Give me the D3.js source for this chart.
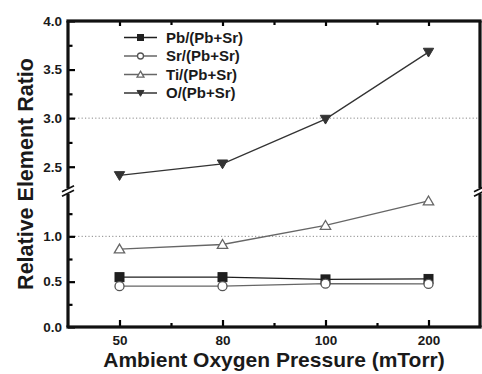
<!DOCTYPE html>
<html><head><meta charset="utf-8">
<script src="https://cdn.jsdelivr.net/npm/d3@7"></script>
<style>body{margin:0;background:#fff}svg{display:block}text{font-family:"Liberation Sans",Arial,sans-serif;font-weight:bold;fill:#1a1a1a}</style>
</head><body><svg id="c" width="482" height="374"></svg>
<script>
const categories = ["50", "80", "100", "200"];
const pbRatio = [0.55, 0.55, 0.525, 0.53];
const srRatio = [0.45, 0.45, 0.478, 0.475];
const tiRatio = [0.86, 0.91, 1.12, 1.39];
const oRatio = [2.41, 2.53, 2.99, 3.68];
const seriesNames = ["Pb/(Pb+Sr)", "Sr/(Pb+Sr)", "Ti/(Pb+Sr)", "O/(Pb+Sr)"];
const lowMajorTicks = [0, 0.5, 1.0];
const lowMinorTicks = [0.25, 0.75, 1.25];
const highMajorTicks = [2.5, 3.0, 3.5, 4.0];
const highMinorTicks = [2.75, 3.25, 3.75];
const gridValues = [1.0, 3.0];

const svg = d3.select("#c");
const L = 68, R = 480, T = 21, B = 327, BRK = 191;
const x = d3.scalePoint().domain(categories).range([L, R]).padding(0.5);
const yLow = d3.scaleLinear().domain([0, 1.5]).range([B, BRK]);
const yHigh = d3.scaleLinear().domain([2.25, 4.0]).range([BRK, T]);
const yAny = v => v >= 2 ? yHigh(v) : yLow(v);
const step = x.step();

// grid
svg.selectAll("line.grid").data(gridValues).join("line")
  .attr("x1", L).attr("x2", R).attr("y1", d => yAny(d)).attr("y2", d => yAny(d))
  .style("stroke", "#888").style("stroke-width", "1px").style("stroke-dasharray", "1.2,2.2");

// axes via d3 (ticks inward)
const axisStyle = g => {
  g.select(".domain").remove();
  g.selectAll(".tick line").style("stroke", "#000").style("stroke-width", "2.2px");
  g.selectAll(".tick text").style("font-size", "13.5px").style("font-weight", "bold")
    .style("font-family", "'Liberation Sans',Arial,sans-serif").style("fill", "#1a1a1a");
};
svg.append("g").attr("transform", `translate(${L},0)`)
  .call(d3.axisLeft(yLow).tickValues(lowMajorTicks).tickFormat(d3.format(".1f")).tickSizeInner(-7).tickPadding(6))
  .call(axisStyle);
svg.append("g").attr("transform", `translate(${L},0)`)
  .call(d3.axisLeft(yHigh).tickValues(highMajorTicks).tickFormat(d3.format(".1f")).tickSizeInner(-7).tickPadding(6))
  .call(axisStyle);
svg.append("g").attr("transform", `translate(${L},0)`)
  .call(d3.axisLeft(yLow).tickValues(lowMinorTicks).tickFormat("").tickSizeInner(-4.5)).call(axisStyle);
svg.append("g").attr("transform", `translate(${L},0)`)
  .call(d3.axisLeft(yHigh).tickValues(highMinorTicks).tickFormat("").tickSizeInner(-4.5)).call(axisStyle);
svg.append("g").attr("transform", `translate(0,${B})`)
  .call(d3.axisBottom(x).tickSizeInner(-7).tickPadding(8)).call(axisStyle);
svg.append("g").attr("transform", `translate(0,${T})`)
  .call(d3.axisTop(x).tickSizeInner(-5).tickFormat("")).call(axisStyle);
const xMinor = categories.slice(0, -1).map(c => x(c) + step / 2);
const xl = d3.scaleLinear().domain([L, R]).range([L, R]);
svg.append("g").attr("transform", `translate(0,${B})`)
  .call(d3.axisBottom(xl).tickValues(xMinor).tickFormat("").tickSizeInner(-4)).call(axisStyle);
svg.append("g").attr("transform", `translate(0,${T})`)
  .call(d3.axisTop(xl).tickValues(xMinor).tickFormat("").tickSizeInner(-4)).call(axisStyle);

// frame as filled bars
const W = 3.2;
const frameRects = [
  [L - W / 2, T - W / 2, R - L + W, W], [L - W / 2, B - W / 2, R - L + W, W],
  [L - W / 2, T, W, BRK - 3 - T], [L - W / 2, BRK + 3, W, B - BRK - 3],
  [R - W / 2, T, W, BRK - 3 - T], [R - W / 2, BRK + 3, W, B - BRK - 3]
];
svg.append("g").selectAll("rect").data(frameRects).join("rect")
  .attr("x", d => d[0]).attr("y", d => d[1]).attr("width", d => d[2]).attr("height", d => d[3])
  .style("fill", "#111").style("stroke", "none");
// break marks
[L, R].forEach(ax => {
  [-2.2, 2.2].forEach(off => {
    svg.append("line").attr("x1", ax - 6).attr("x2", ax + 6)
      .attr("y1", BRK + off + 3).attr("y2", BRK + off - 3)
      .style("stroke", "#111").style("stroke-width", "1.8px");
  });
});

// series
const series = [
  {name: seriesNames[0], vals: pbRatio, line: "#1f1f1f", stroke: "#1f1f1f", fill: "#1f1f1f", shape: "square"},
  {name: seriesNames[1], vals: srRatio, line: "#666", stroke: "#555", fill: "#fff", shape: "circle"},
  {name: seriesNames[2], vals: tiRatio, line: "#666", stroke: "#666", fill: "#fff", shape: "tri"},
  {name: seriesNames[3], vals: oRatio, line: "#333", stroke: "#333", fill: "#333", shape: "tridown"}
];
function marker(g, s, cx, cy, size) {
  const h = size / 2;
  if (s.shape === "square") g.append("rect").attr("x", cx - h).attr("y", cy - h).attr("width", size).attr("height", size);
  else if (s.shape === "circle") g.append("circle").attr("cx", cx).attr("cy", cy).attr("r", h);
  else if (s.shape === "tri") g.append("path").attr("d", `M${cx},${cy - h * 1.1}L${cx + h * 1.15},${cy + h * 0.85}L${cx - h * 1.15},${cy + h * 0.85}Z`);
  else g.append("path").attr("d", `M${cx},${cy + h * 1.1}L${cx + h * 1.15},${cy - h * 0.85}L${cx - h * 1.15},${cy - h * 0.85}Z`);
  g.selectAll("*").style("fill", s.fill).style("stroke", s.stroke).style("stroke-width", (s.fill === "#fff" ? 1.3 : 1) + "px");
}
const lineGen = d3.line().x((d, i) => x(categories[i])).y(d => yAny(d));
series.forEach(s => {
  svg.append("path").datum(s.vals).attr("d", lineGen).style("fill", "none").style("stroke", s.line).style("stroke-width", "1.3px");
});
series.forEach(s => {
  s.vals.forEach((v, i) => marker(svg.append("g"), s, x(categories[i]), yAny(v), 9));
});

// legend
const legY = [37.5, 56, 74.5, 93];
series.forEach((s, i) => {
  const g = svg.append("g");
  g.append("line").attr("x1", 124).attr("x2", 157).attr("y1", legY[i]).attr("y2", legY[i]).style("stroke", s.line).style("stroke-width", "1.3px");
  marker(g.append("g"), s, 140.5, legY[i], 6);
  g.append("text").attr("x", 166).attr("y", legY[i] + 5).style("font-size", "15px").text(s.name);
});

// titles
svg.append("text").attr("x", (L + R) / 2).attr("y", 367).attr("text-anchor", "middle").style("font-size", "21px").text("Ambient Oxygen Pressure (mTorr)");
svg.append("text").attr("transform", `translate(33,${(T + B) / 2}) rotate(-90)`).attr("text-anchor", "middle").style("font-size", "21.5px").text("Relative Element Ratio");
</script></body></html>
